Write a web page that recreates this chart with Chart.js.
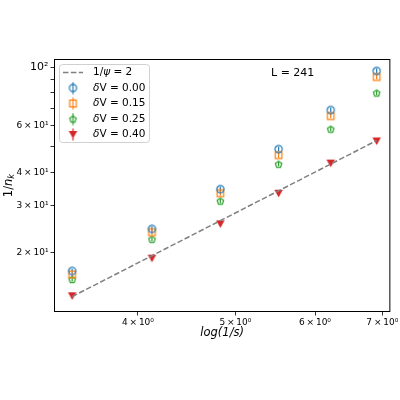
<!DOCTYPE html>
<html>
<head>
<meta charset="utf-8">
<script src="https://cdn.jsdelivr.net/npm/chart.js@4.4.0/dist/chart.umd.min.js"></script>
<style>
  html, body { margin: 0; padding: 0; background: #fff; }
</style>
</head>
<body>
<canvas id="chart" width="400" height="400"></canvas>
<script>
// x positions: log(1/s)
const logInvS = [3.44, 4.13, 4.83, 5.52, 6.22, 6.91];

// 1/n_k for each dV
const invN_dv000 = [17.0, 24.5, 34.6, 49.0, 68.8, 96.6];
const invN_dv015 = [16.5, 23.8, 33.4, 46.5, 65.3, 91.7];
const invN_dv025 = [15.8, 22.4, 31.2, 43.0, 58.3, 79.8];
const invN_dv040 = [13.7, 19.0, 25.6, 33.4, 43.4, 52.6];

// error bar half lengths (estimated)
const err_dv000 = [0.3, 0.5, 0.7, 1.0, 1.4, 2.0];
const err_dv015 = [0.3, 0.5, 0.7, 1.0, 1.3, 1.9];
const err_dv025 = [0.3, 0.4, 0.6, 0.8, 1.1, 1.6];
const err_dv040 = [0.3, 0.4, 0.5, 0.7, 0.9, 1.1];

// reference line, slope 1/psi = 2
const fitX = [3.44, 6.91];
const fitY = [13.6, 52.8];

const fitLabel = '1/ψ = 2';
const seriesLabels = ['δV = 0.00', 'δV = 0.15', 'δV = 0.25', 'δV = 0.40'];
const boxText = 'L = 241';

const xTicks = [4, 5, 6, 7];
const xTickLabels = ['4\u2009×\u200910⁰', '5\u2009×\u200910⁰', '6\u2009×\u200910⁰', '7\u2009×\u200910⁰'];
const yTicks = [20, 30, 40, 50, 60, 70, 80, 90, 100];
const yTickLabels = ['2\u2009×\u200910¹', '3\u2009×\u200910¹', '4\u2009×\u200910¹', '', '6\u2009×\u200910¹', '', '', '', '10²'];

const FONT = '"DejaVu Sans", sans-serif';
const BLUE = '#1f77b4', ORANGE = '#ff7f0e', GREEN = '#2ca02c', RED = '#d62728', GRAY = '#808080';

// marker images (hollow markers let the error bar show through)
function makeMarker(kind, color, bar) {
  const c = document.createElement('canvas');
  c.width = 13; c.height = bar ? 13 : 11;
  const g = c.getContext('2d');
  const m = 6.5, cy = c.height / 2;
  g.strokeStyle = color; g.fillStyle = color; g.lineWidth = 1.2;
  if (bar) {
    g.beginPath(); g.moveTo(m, 0.5); g.lineTo(m, c.height - 0.5); g.stroke();
  }
  g.beginPath();
  if (kind === 'circle') {
    g.arc(m, cy, 3.6, 0, Math.PI * 2);
  } else if (kind === 'square') {
    g.rect(m - 3.3, cy - 3.3, 6.6, 6.6);
  } else if (kind === 'pentagon') {
    for (let i = 0; i < 5; i++) {
      const a = -Math.PI / 2 + i * Math.PI * 2 / 5;
      const px = m + 3.4 * Math.cos(a), py = cy + 0.3 + 3.4 * Math.sin(a);
      i ? g.lineTo(px, py) : g.moveTo(px, py);
    }
    g.closePath();
  } else {
    g.moveTo(m - 4.3, cy - 3.4); g.lineTo(m + 4.3, cy - 3.4); g.lineTo(m, cy + 4.0); g.closePath();
  }
  if (kind === 'tri') g.fill(); else g.stroke();
  return c;
}

function seriesData(ys) {
  return logInvS.map((x, i) => ({x: x, y: ys[i]}));
}

// split a label so that greek letters are drawn in italic
function richParts(str) {
  const parts = [];
  for (const ch of str) {
    const it = 'δψ'.includes(ch);
    if (parts.length && parts[parts.length - 1][1] === it) parts[parts.length - 1][0] += ch;
    else parts.push([ch, it, false]);
  }
  return parts;
}

function drawRich(ctx, parts, x, y, size, measureOnly) {
  let cx = x;
  parts.forEach(([t, it, sub]) => {
    const s = sub ? size * 0.72 : size;
    ctx.font = (it ? 'italic ' : '') + s + 'px ' + FONT;
    if (!measureOnly) ctx.fillText(t, cx, sub ? y + size * 0.28 : y);
    cx += ctx.measureText(t).width;
  });
  return cx - x;
}

const kinds = [['circle', BLUE], ['square', ORANGE], ['pentagon', GREEN], ['tri', RED]];
const plotMarkers = kinds.map(k => makeMarker(k[0], k[1], false));
const legendMarkers = kinds.map(k => makeMarker(k[0], k[1], true));
const seriesValues = [invN_dv000, invN_dv015, invN_dv025, invN_dv040];
const seriesErrors = [err_dv000, err_dv015, err_dv025, err_dv040];

const datasets = [{
  label: fitLabel,
  data: fitX.map((x, i) => ({x: x, y: fitY[i]})),
  showLine: true,
  borderColor: GRAY,
  borderWidth: 1.5,
  borderDash: [5.5, 2.4],
  pointRadius: 0
}];
seriesValues.forEach((ys, i) => {
  datasets.push({
    label: seriesLabels[i],
    data: seriesData(ys),
    errors: seriesErrors[i],
    barColor: kinds[i][1],
    legendImage: legendMarkers[i],
    pointStyle: plotMarkers[i],
    pointRadius: 4,
    showLine: false
  });
});

const decorations = {
  id: 'decorations',
  beforeDatasetsDraw(chart) {
    const {ctx, scales: {x, y}} = chart;
    chart.data.datasets.forEach(ds => {
      if (!ds.errors) return;
      ctx.save();
      ctx.strokeStyle = ds.barColor;
      ctx.lineWidth = 1.2;
      ds.data.forEach((p, i) => {
        const px = x.getPixelForValue(p.x);
        ctx.beginPath();
        ctx.moveTo(px, y.getPixelForValue(p.y - ds.errors[i]));
        ctx.lineTo(px, y.getPixelForValue(p.y + ds.errors[i]));
        ctx.stroke();
      });
      ctx.restore();
    });
  },
  afterDatasetsDraw(chart) {
    const {ctx, chartArea: a} = chart;
    ctx.save();
    // frame
    ctx.strokeStyle = '#000';
    ctx.lineWidth = 1;
    ctx.strokeRect(a.left + 0.5, a.top + 0.5, a.right - a.left - 1, a.bottom - a.top - 1);

    // legend
    const bx = a.left + 5, by = a.top + 5, bw = 90, bh = 78;
    ctx.beginPath();
    ctx.roundRect(bx + 0.5, by + 0.5, bw, bh, 3);
    ctx.fillStyle = 'rgba(255,255,255,0.8)';
    ctx.fill();
    ctx.strokeStyle = '#d0d0d0';
    ctx.stroke();
    ctx.textBaseline = 'middle';
    ctx.fillStyle = '#000';
    chart.data.datasets.forEach((ds, i) => {
      const cy = by + 8.5 + i * 15.5;
      if (ds.legendImage) {
        const img = ds.legendImage;
        ctx.drawImage(img, a.left + 19 - img.width / 2, cy - img.height / 2);
      } else {
        ctx.save();
        ctx.strokeStyle = ds.borderColor;
        ctx.lineWidth = ds.borderWidth;
        ctx.setLineDash(ds.borderDash);
        ctx.beginPath();
        ctx.moveTo(a.left + 9, cy);
        ctx.lineTo(a.left + 29, cy);
        ctx.stroke();
        ctx.restore();
      }
      ctx.fillStyle = '#000';
      drawRich(ctx, richParts(ds.label), a.left + 39, cy, 10.5);
    });

    // size annotation
    ctx.font = '11px ' + FONT;
    ctx.fillText(boxText, 271, a.top + 14);

    // y axis title 1/n_k
    const yTitle = [['1/', false, false], ['n', true, false], ['k', true, true]];
    const w = drawRich(ctx, yTitle, 0, 0, 11.5, true);
    ctx.translate(9, (a.top + a.bottom) / 2);
    ctx.rotate(-Math.PI / 2);
    drawRich(ctx, yTitle, -w / 2, 0, 11.5);
    ctx.restore();
  }
};

new Chart(document.getElementById('chart'), {
  type: 'scatter',
  data: {datasets: datasets},
  plugins: [decorations],
  options: {
    responsive: false,
    animation: false,
    devicePixelRatio: 1,
    layout: {padding: {left: 0, top: 59, right: 9, bottom: 60}},
    plugins: {legend: {display: false}, tooltip: {enabled: false}},
    scales: {
      x: {
        type: 'logarithmic',
        min: 3.322,
        max: 7.13,
        afterFit: (s) => { s.height = 28; },
        afterBuildTicks: (s) => { s.ticks = xTicks.map(v => ({value: v})); },
        border: {display: false},
        grid: {display: true, drawOnChartArea: false, drawTicks: true, tickLength: 3.5, color: '#000', lineWidth: 0.8},
        ticks: {
          autoSkip: false, maxRotation: 0, minRotation: 0, padding: 1.5, color: '#000',
          font: {family: FONT, size: 9},
          callback: (v) => xTickLabels[xTicks.indexOf(v)]
        },
        title: {display: true, text: 'log(1/s)', color: '#000', padding: {top: 0, bottom: 0},
                font: {family: FONT, size: 11.5, style: 'italic'}}
      },
      y: {
        type: 'logarithmic',
        min: 11.9,
        max: 107.2,
        afterFit: (s) => { s.width = 54; },
        afterBuildTicks: (s) => { s.ticks = yTicks.map(v => ({value: v})); },
        border: {display: false},
        grid: {display: true, drawOnChartArea: false, drawTicks: true, tickLength: 3.5, color: '#000', lineWidth: 0.8},
        ticks: {
          autoSkip: false, padding: 2, color: '#000',
          font: (c) => ({family: FONT, size: c.tick && c.tick.value === 100 ? 11 : 9}),
          callback: (v) => yTickLabels[yTicks.indexOf(v)]
        },
        title: {display: false}
      }
    }
  }
});
</script>
</body>
</html>
